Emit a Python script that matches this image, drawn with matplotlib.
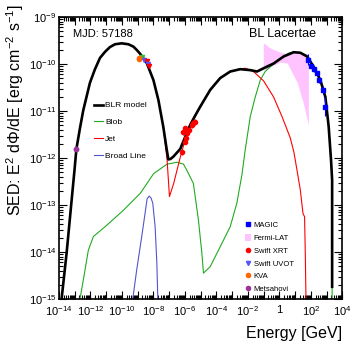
import numpy as np
import matplotlib
matplotlib.use('Agg')
import matplotlib.pyplot as plt
from matplotlib.ticker import LogLocator, FuncFormatter, NullFormatter
from matplotlib.lines import Line2D
from matplotlib.patches import Patch

plt.rcParams['font.family'] = ['Liberation Sans', 'DejaVu Sans']
plt.rcParams['mathtext.default'] = 'regular'

# log10(E / GeV) and log10(E^2 dN/dE / erg cm-2 s-1)
blr_loge = [-13.83, -13.51, -13.19, -13.01, -12.89, -12.66, -12.45, -12.03, -11.71, -11.39,
            -11.07, -10.76, -10.44, -10.01, -9.59, -9.27, -9.06, -8.85, -8.42, -8.00,
            -7.68, -7.37, -7.15, -7.05, -6.91, -6.73, -6.30, -5.67, -5.35, -5.03,
            -4.39, -3.76, -3.12, -2.49, -1.85, -1.42, -1.00, -0.37, 0.27, 0.90,
            1.33, 1.76, 2.18, 2.60, 2.92, 3.13, 3.28, 3.35, 3.35]
blr_logf = [-15.0, -14.02, -12.89, -12.26, -11.81, -11.36, -10.98, -10.40, -10.11, -9.87,
            -9.74, -9.64, -9.58, -9.56, -9.58, -9.63, -9.70, -9.78, -9.98, -10.34,
            -10.77, -11.34, -11.83, -12.03, -12.02, -11.97, -11.81, -11.30, -11.10, -10.91,
            -10.55, -10.30, -10.16, -10.11, -10.13, -10.16, -10.09, -9.99, -9.84, -9.75,
            -9.76, -9.84, -10.06, -10.34, -10.70, -11.33, -12.04, -12.47, -14.74]

blob_loge = [-12.66, -12.34, -12.13, -11.81, -10.96, -9.90, -8.83, -7.98, -7.13, -6.49,
             -6.09, -5.88, -5.46, -5.14, -4.92, -4.82, -4.39, -3.76, -3.12, -2.70,
             -2.38, -2.17, -1.85, -1.53, -1.21, -0.90, -0.58, 0.06, 0.59, 0.90,
             1.33, 1.76, 2.18, 2.60, 2.92, 3.13, 3.28, 3.35, 3.35]
blob_logf = [-15.0, -14.38, -13.96, -13.67, -13.43, -13.11, -12.75, -12.33, -12.13, -12.09,
             -12.13, -12.26, -12.54, -13.32, -14.03, -14.45, -14.31, -13.89, -13.46, -12.96,
             -12.36, -11.83, -11.12, -10.70, -10.34, -10.16, -10.06, -9.88, -9.77, -9.75,
             -9.76, -9.84, -10.06, -10.34, -10.70, -11.33, -12.04, -12.47, -15.0]

jet_loge = [-13.83, -13.51, -13.19, -13.01, -12.89, -12.66, -12.45, -12.03, -11.71, -11.39,
            -11.07, -10.76, -10.44, -10.01, -9.59, -9.27, -9.06, -8.85, -8.42, -8.00,
            -7.68, -7.37, -7.13, -6.98, -6.71, -6.39, -6.17, -5.90, -5.67, -5.35,
            -5.03, -4.39, -3.76, -3.12, -2.49, -2.17, -1.64, -1.00, -0.37, 0.17,
            0.69, 0.92, 1.12, 1.33, 1.50, 1.60, 1.65, 1.69]
jet_logf = [-15.0, -14.02, -12.89, -12.26, -11.81, -11.36, -10.98, -10.40, -10.11, -9.87,
            -9.74, -9.64, -9.58, -9.56, -9.58, -9.63, -9.70, -9.78, -9.98, -10.34,
            -10.77, -11.34, -12.04, -12.82, -12.54, -12.11, -11.83, -11.53, -11.34, -11.12,
            -10.91, -10.55, -10.30, -10.16, -10.11, -10.09, -10.16, -10.36, -10.70, -11.12,
            -11.57, -11.87, -12.26, -12.68, -13.18, -13.25, -14.10, -15.02]

bline_loge = [-9.31, -9.06, -8.74, -8.53, -8.40, -8.27, -8.15, -8.04, -7.89, -7.78, -7.72]
bline_logf = [-15.0, -14.38, -13.67, -13.18, -12.87, -12.81, -12.85, -12.96, -13.46, -14.24, -15.0]

# Fermi-LAT butterfly
fermi_loge = [-1.02, -0.58, 0.06, 0.50, 1.14, 1.52, 1.84]
fermi_hi = [-9.55, -9.66, -9.75, -9.78, -9.77, -9.77, -9.78]
fermi_lo = [-10.13, -10.06, -9.96, -9.98, -10.40, -10.83, -11.30]

magic_loge = [1.84, 2.00, 2.19, 2.38, 2.54, 2.76, 2.92]
magic_logf = [-9.91, -10.04, -10.11, -10.19, -10.34, -10.55, -10.91]
magic_err = [0.12, 0.05, 0.05, 0.05, 0.06, 0.08, 0.20]

xrt_loge = [-6.19, -6.09, -5.98, -5.88, -5.92, -5.77, -5.98, -5.56, -5.46, -5.35]
xrt_logf = [-11.87, -11.44, -11.37, -11.47, -11.58, -11.40, -11.65, -11.30, -11.26, -11.23]

uvot_loge = [-8.74, -8.57, -8.42, -8.36, -8.27]
uvot_logf = [-9.86, -9.91, -9.94, -10.00, -10.05]
uvot_colors = ['#33bb33', '#5555ff', '#ff0000', '#5555ff', '#ff0000']

kva_loge = [-8.93, -8.89]
kva_logf = [-9.90, -9.88]

metsahovi_loge = [-12.92]
metsahovi_logf = [-11.81]


def p(v):
    return 10.0 ** np.asarray(v)


fig = plt.figure(figsize=(3.57, 3.45), dpi=100)
ax = fig.add_axes([0.165, 0.1333, 0.794, 0.8174])

ax.fill_between(p(fermi_loge), p(fermi_lo), p(fermi_hi), color='#ffc4ff', lw=0, zorder=1)

ax.plot(p(blob_loge), p(blob_logf), color='#22aa22', lw=0.8, zorder=2)
ax.plot(p(jet_loge), p(jet_logf), color='#ff0000', lw=0.8, zorder=2)
ax.plot(p(bline_loge), p(bline_logf), color='#5555cc', lw=0.8, zorder=2)
ax.plot(p(blr_loge), p(blr_logf), color='black', lw=1.9, zorder=3)

# data points
ax.errorbar(p(magic_loge), p(magic_logf),
            yerr=[p(magic_logf) - p(np.array(magic_logf) - magic_err),
                  p(np.array(magic_logf) + magic_err) - p(magic_logf)],
            fmt='s', color='#0000ff', ms=3.0, lw=0.8, zorder=4)
ax.errorbar(p(xrt_loge), p(xrt_logf),
            xerr=[p(xrt_loge) - p(np.array(xrt_loge) - 0.04), p(np.array(xrt_loge) + 0.04) - p(xrt_loge)],
            yerr=[p(xrt_logf) - p(np.array(xrt_logf) - 0.06), p(np.array(xrt_logf) + 0.06) - p(xrt_logf)],
            fmt='o', color='#ff0000', ms=3, lw=0.7, zorder=4)
for e, f, c in zip(uvot_loge, uvot_logf, uvot_colors):
    ax.plot(10 ** e, 10 ** f, 'v', color=c, ms=3, zorder=5)
ax.plot(p(kva_loge), p(kva_logf), 'o', color='#ff6600', ms=3, zorder=5)
ax.plot(p(metsahovi_loge), p(metsahovi_logf), 'o', color='#993399', ms=3.2, zorder=5)

ax.set_xscale('log')
ax.set_yscale('log')
ax.set_xlim(1e-14, 1e4)
ax.set_ylim(1e-15, 1e-9)


def xfmt(v, pos):
    n = int(round(np.log10(v)))
    if n % 2:
        return ''
    if n == 0:
        return '1'
    return '10$^{%d}$' % n


def yfmt(v, pos):
    n = int(round(np.log10(v)))
    return '10$^{%d}$' % n


ax.xaxis.set_major_locator(LogLocator(base=10, numticks=100))
ax.xaxis.set_minor_locator(LogLocator(base=10, subs=np.arange(2, 10), numticks=100))
ax.xaxis.set_major_formatter(FuncFormatter(xfmt))
ax.xaxis.set_minor_formatter(NullFormatter())
ax.yaxis.set_major_locator(LogLocator(base=10, numticks=100))
ax.yaxis.set_minor_locator(LogLocator(base=10, subs=np.arange(2, 10), numticks=100))
ax.yaxis.set_major_formatter(FuncFormatter(yfmt))
ax.yaxis.set_minor_formatter(NullFormatter())

ax.tick_params(which='both', direction='in', top=True, right=True, labelsize=8, width=0.8)
ax.tick_params(which='major', length=6)
ax.tick_params(which='minor', length=3)
ax.tick_params(axis='x', pad=4)
ax.tick_params(axis='y', pad=2)
for s in ax.spines.values():
    s.set_linewidth(1.2)

ax.set_xlabel('Energy [GeV]', fontsize=11.5, loc='right')
ax.xaxis.set_label_coords(1.0, -0.095)
ax.set_ylabel('SED: E$^{2}$ d$\\Phi$/dE [erg cm$^{-2}$ s$^{-1}$]', fontsize=11.5, loc='top')
ax.yaxis.set_label_coords(-0.155, 1.045)
ax.yaxis.label.set_verticalalignment('center')

ax.text(0.05, 0.94, 'MJD: 57188', transform=ax.transAxes, fontsize=8, va='center')
ax.text(0.67, 0.94, 'BL Lacertae', transform=ax.transAxes, fontsize=9, va='center')

model_handles = [Line2D([], [], color='black', lw=1.9),
                 Line2D([], [], color='#22aa22', lw=0.8),
                 Line2D([], [], color='#ff0000', lw=0.8),
                 Line2D([], [], color='#5555cc', lw=0.8)]
leg1 = ax.legend(model_handles, ['BLR model', 'Blob', 'Jet', 'Broad Line'],
                 loc='upper left', bbox_to_anchor=(0.125, 0.70), frameon=False,
                 fontsize=6, handlelength=1.0, handletextpad=0.3, labelspacing=1.07,
                 borderpad=0, borderaxespad=0)
ax.add_artist(leg1)

data_handles = [Line2D([], [], ls='', marker='s', color='#0000ff', ms=3),
                Patch(facecolor='#ffc4ff', edgecolor='none'),
                Line2D([], [], ls='', marker='o', color='#ff0000', ms=3),
                Line2D([], [], ls='', marker='v', color='#5555ff', ms=3),
                Line2D([], [], ls='', marker='o', color='#ff6600', ms=3),
                Line2D([], [], ls='', marker='o', color='#993399', ms=3)]
ax.legend(data_handles, ['MAGIC', 'Fermi-LAT', 'Swift XRT', 'Swift UVOT', 'KVA', 'Metsahovi'],
          loc='upper left', bbox_to_anchor=(0.655, 0.276), frameon=False,
          fontsize=5.5, handlelength=0.9, handleheight=1.0, handletextpad=0.3,
          labelspacing=0.62, borderpad=0, borderaxespad=0)

fig.savefig('out.png', dpi=100)
